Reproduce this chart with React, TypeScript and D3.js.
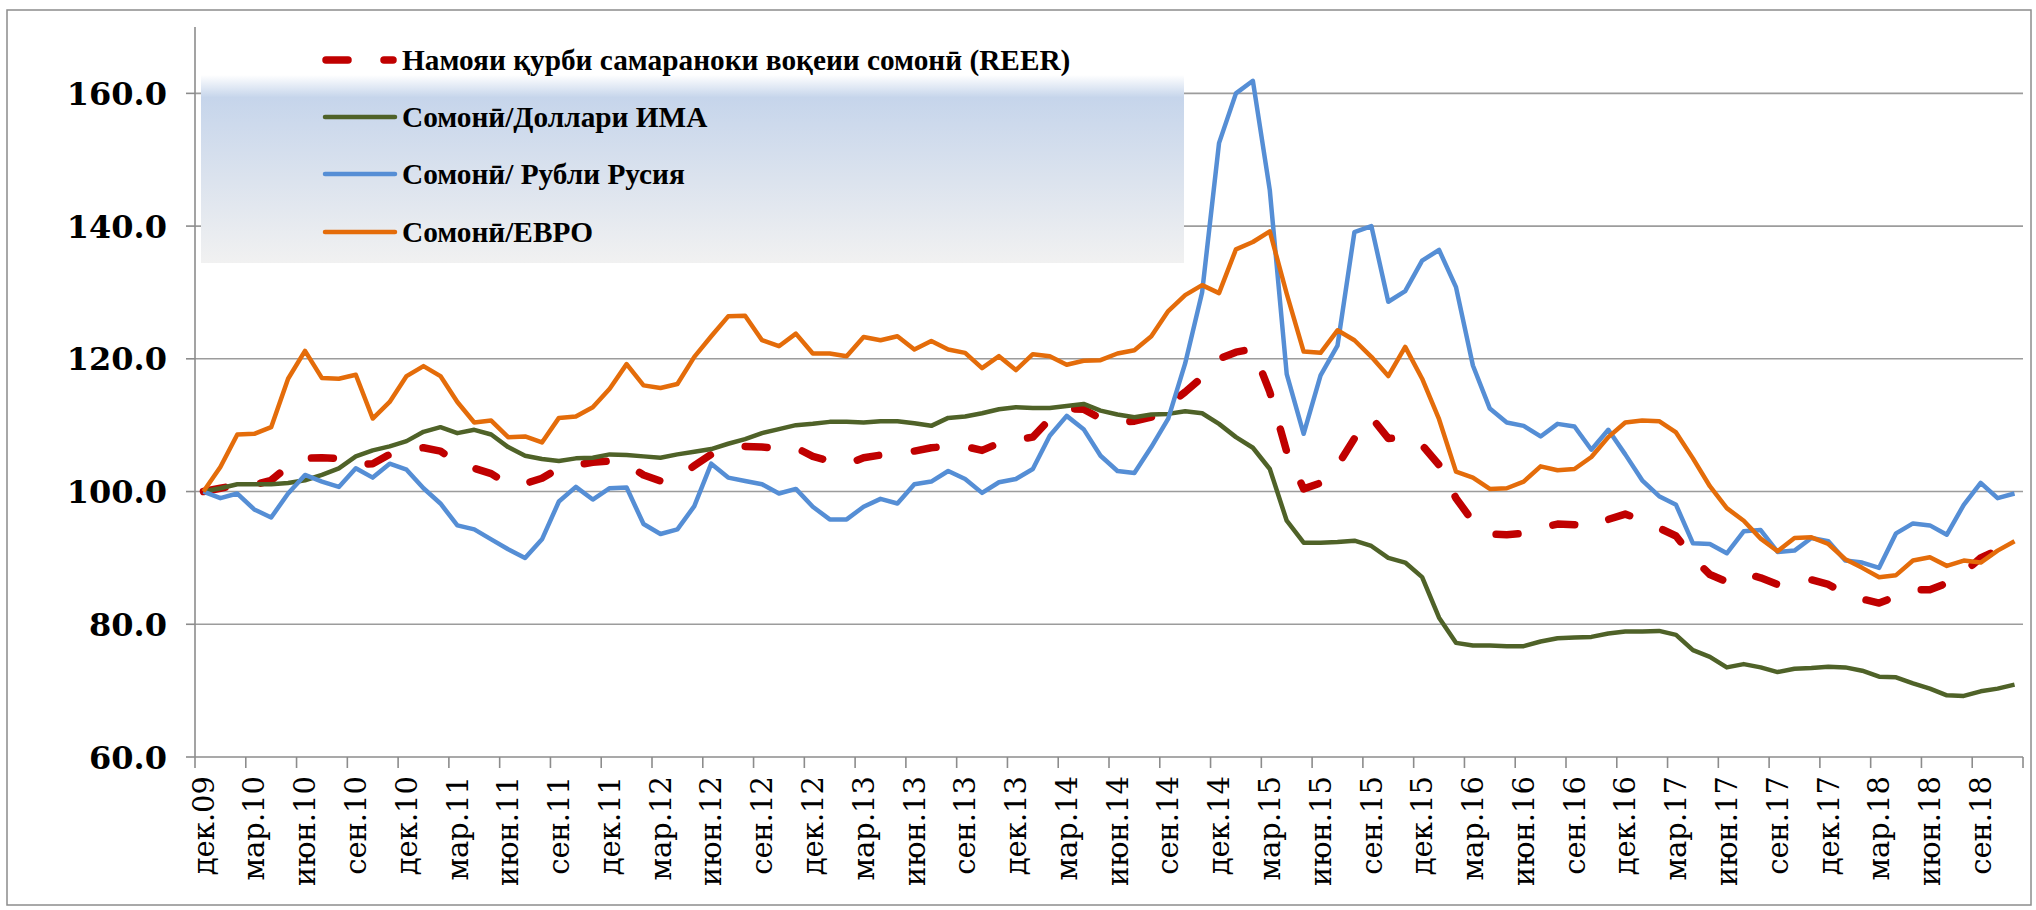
import React from 'react';
import * as d3 from 'd3';

// Somoni exchange-rate indices, monthly, Dec 2009 = 100
const reer = [
  100.0, 100.5, 101.0, 101.0, 101.7, 103.8, 105.0, 105.1, 105.0, 104.0, 104.2, 105.6,
  106.2, 106.6, 106.1, 104.3, 103.5, 102.7, 101.1, 101.2, 102.0, 103.5, 104.0, 104.4,
  104.6, 104.1, 102.5, 101.6, 102.1, 103.9, 105.6, 106.4, 106.8, 106.7, 106.5, 106.6,
  105.3, 104.6, 104.1, 105.1, 105.5, 105.8, 106.1, 106.6, 106.8, 106.8, 106.2, 107.3,
  107.8, 108.2, 110.9, 112.5, 112.4, 111.0, 110.4, 110.6, 111.2, 113.0, 115.0, 117.2,
  120.0, 121.0, 121.5, 115.0, 106.0, 100.4, 101.3, 103.9, 108.0, 111.2, 108.0, 108.2,
  107.0, 104.0, 99.0, 95.5, 93.6, 93.5, 93.7, 94.5, 95.1, 95.0, 94.6, 95.8,
  96.6, 95.7, 94.5, 93.3, 90.0, 87.5, 86.4, 87.7, 87.0, 86.0, 86.2, 86.7,
  86.0, 84.6, 83.8, 83.2, 84.2, 85.2, 85.2, 86.2, 87.8, 90.0, 91.2, 92.3,
];

const usd = [
  100.0, 100.5, 101.1, 101.1, 101.1, 101.3, 101.7, 102.5, 103.5, 105.3, 106.2, 106.8,
  107.6, 109.0, 109.7, 108.8, 109.3, 108.6, 106.7, 105.4, 104.9, 104.6, 105.0, 105.1,
  105.6, 105.5, 105.3, 105.1, 105.6, 106.0, 106.4, 107.2, 107.9, 108.8, 109.4, 110.0,
  110.2, 110.5, 110.5, 110.4, 110.6, 110.6, 110.3, 109.9, 111.1, 111.3, 111.8, 112.4,
  112.7, 112.6, 112.6, 112.9, 113.2, 112.2, 111.6, 111.2, 111.6, 111.7, 112.1, 111.8,
  110.2, 108.2, 106.6, 103.4, 95.6, 92.3, 92.3, 92.4, 92.6, 91.8, 90.0, 89.3,
  87.1, 81.0, 77.2, 76.8, 76.8, 76.7, 76.7, 77.4, 77.9, 78.0, 78.1, 78.6,
  78.9, 78.9, 79.0, 78.4, 76.1, 75.1, 73.5, 74.0, 73.5, 72.8, 73.3, 73.4,
  73.6, 73.5, 73.0, 72.1, 72.0, 71.1, 70.3, 69.3, 69.2, 69.9, 70.3, 70.9,
];

const rub = [
  100.0, 99.0, 99.7, 97.3, 96.1, 99.7, 102.5, 101.5, 100.7, 103.5, 102.1, 104.2,
  103.3, 100.5, 98.2, 94.9, 94.3, 92.8, 91.3, 90.0, 92.8, 98.5, 100.7, 98.8,
  100.5, 100.6, 95.1, 93.6, 94.3, 97.8, 104.2, 102.1, 101.6, 101.1, 99.7, 100.4,
  97.7, 95.8, 95.8, 97.7, 98.9, 98.2, 101.1, 101.5, 103.1, 101.9, 99.8, 101.4,
  101.9, 103.4, 108.4, 111.4, 109.4, 105.4, 103.1, 102.8, 106.7, 111.0, 119.3, 130.0,
  152.5, 160.0, 161.9, 145.4, 117.7, 108.7, 117.5, 122.0, 139.1, 140.0, 128.6, 130.2,
  134.8, 136.4, 130.8, 119.0, 112.5, 110.4, 109.9, 108.3, 110.2, 109.8, 106.3, 109.3,
  105.6, 101.7, 99.3, 98.0, 92.2, 92.1, 90.7, 94.0, 94.2, 90.9, 91.1, 93.0,
  92.5, 89.6, 89.3, 88.5, 93.7, 95.2, 94.9, 93.5, 98.0, 101.3, 99.0, 99.7,
];

const eur = [
  100.0, 103.7, 108.6, 108.7, 109.7, 117.0, 121.2, 117.1, 117.0, 117.6, 111.0, 113.5,
  117.4, 118.9, 117.4, 113.5, 110.4, 110.7, 108.2, 108.3, 107.4, 111.1, 111.3, 112.7,
  115.5, 119.2, 116.0, 115.6, 116.2, 120.3, 123.4, 126.4, 126.5, 122.8, 121.9, 123.8,
  120.8, 120.8, 120.4, 123.3, 122.8, 123.4, 121.4, 122.7, 121.4, 120.9, 118.6, 120.4,
  118.3, 120.7, 120.4, 119.1, 119.7, 119.8, 120.8, 121.3, 123.4, 127.2, 129.6, 131.1,
  129.9, 136.5, 137.6, 139.2, 129.8, 121.1, 120.9, 124.3, 122.8, 120.3, 117.4, 121.8,
  117.0, 110.9, 103.0, 102.1, 100.4, 100.5, 101.5, 103.8, 103.2, 103.4, 105.2, 108.2,
  110.4, 110.7, 110.6, 108.9, 105.0, 100.8, 97.5, 95.6, 92.9, 91.0, 93.0, 93.1,
  92.1, 89.8, 88.5, 87.1, 87.4, 89.6, 90.1, 88.8, 89.6, 89.3, 91.1, 92.5,
];

// every third month is labelled
const tickLabels = [
  'дек.09', 'мар.10', 'июн.10', 'сен.10', 'дек.10', 'мар.11', 'июн.11', 'сен.11', 'дек.11',
  'мар.12', 'июн.12', 'сен.12', 'дек.12', 'мар.13', 'июн.13', 'сен.13', 'дек.13', 'мар.14',
  'июн.14', 'сен.14', 'дек.14', 'мар.15', 'июн.15', 'сен.15', 'дек.15', 'мар.16', 'июн.16',
  'сен.16', 'дек.16', 'мар.17', 'июн.17', 'сен.17', 'дек.17', 'мар.18', 'июн.18', 'сен.18',
];

const yTicks = [60, 80, 100, 120, 140, 160];

const series = [
  { name: 'Намояи қурби самараноки воқеии сомонӣ (REER)', values: reer, color: '#c00000', width: 7.5, dash: '22 36' },
  { name: 'Сомонӣ/Доллари ИМА', values: usd, color: '#4f6228', width: 4.5, dash: null },
  { name: 'Сомонӣ/ Рубли Русия', values: rub, color: '#558ed5', width: 4.5, dash: null },
  { name: 'Сомонӣ/ЕВРО', values: eur, color: '#e46c0a', width: 4.5, dash: null },
];

const W = 2036;
const H = 910;
const plot = { left: 195, right: 2023, top: 27, bottom: 757 };

export default function App() {
  const months = d3.range(eur.length);
  const x = d3.scaleBand<number>().domain(months).range([plot.left, plot.right]).padding(0);
  const cx = (i: number) => (x(i) as number) + x.bandwidth() / 2;
  const y = d3.scaleLinear().domain([60, 170]).range([plot.bottom, plot.top]);

  const line = d3.line<number>()
    .x((_, i) => cx(i))
    .y(d => y(d));

  // tick marks sit on category boundaries, every 3 months, plus the axis end
  const tickPos = d3.range(0, months.length + 1, 3).map(i =>
    i < months.length ? (x(i) as number) : plot.right);

  const legendRows = [60, 117, 174, 232];

  return (
    <div style={{ position: 'fixed', left: 0, top: 0 }}>
      <svg width={W} height={H} style={{ display: 'block', background: '#fff' }}>
        <defs>
          <linearGradient id="legendBg" x1="0" y1="0" x2="0" y2="1">
            <stop offset="0%" stopColor="#ffffff" />
            <stop offset="12%" stopColor="#c6d5eb" />
            <stop offset="100%" stopColor="#f1f1f1" />
          </linearGradient>
        </defs>

        <rect x={7} y={10} width={2024} height={895} fill="#fff" stroke="#8c8c8c" strokeWidth={1.5} />

        {/* gridlines */}
        {yTicks.filter(t => t > 60).map(t => (
          <line key={t} x1={plot.left} x2={plot.right} y1={y(t)} y2={y(t)} stroke="#9c9c9c" strokeWidth={1.6} />
        ))}

        {/* legend background */}
        <rect x={201} y={75} width={983} height={188} fill="url(#legendBg)" />

        {/* y axis */}
        <line x1={plot.left} x2={plot.left} y1={plot.top} y2={plot.bottom} stroke="#8c8c8c" strokeWidth={1.6} />
        {yTicks.map(t => (
          <g key={t}>
            <line x1={plot.left - 9} x2={plot.left} y1={y(t)} y2={y(t)} stroke="#8c8c8c" strokeWidth={1.6} />
            <text x={167} y={y(t)} dy="0.36em" textAnchor="end"
              style={{ fontFamily: '"DejaVu Serif", serif', fontWeight: 700, fontSize: 32 }}>
              {t.toFixed(1)}
            </text>
          </g>
        ))}

        {/* x axis */}
        <line x1={plot.left} x2={plot.right} y1={plot.bottom} y2={plot.bottom} stroke="#8c8c8c" strokeWidth={1.6} />
        {tickPos.map((p, k) => (
          <line key={k} x1={p} x2={p} y1={plot.bottom} y2={plot.bottom + 11} stroke="#8c8c8c" strokeWidth={1.6} />
        ))}
        {tickLabels.map((lab, k) => (
          <text key={lab} transform={`translate(${cx(k * 3)},${plot.bottom + 19}) rotate(-90)`}
            dy="0.35em" textAnchor="end"
            style={{ fontFamily: '"DejaVu Serif", serif', fontSize: 29 }}>
            {lab}
          </text>
        ))}

        {/* series */}
        {series.map(s => (
          <path key={s.name} d={line(s.values) ?? ''} fill="none" stroke={s.color}
            strokeWidth={s.width} strokeLinejoin="round"
            strokeLinecap={s.dash ? 'round' : 'butt'}
            strokeDasharray={s.dash ?? undefined} />
        ))}

        {/* legend */}
        {series.map((s, k) => (
          <g key={s.name}>
            <line x1={s.dash ? 326 : 325} x2={s.dash ? 393 : 395} y1={legendRows[k]} y2={legendRows[k]}
              stroke={s.color} strokeWidth={s.width} strokeLinecap="round"
              strokeDasharray={s.dash ?? undefined} />
            <text x={402} y={legendRows[k]} dy="0.35em"
              style={{ fontFamily: '"Liberation Serif", serif', fontWeight: 700, fontSize: 29.3 }}>
              {s.name}
            </text>
          </g>
        ))}
      </svg>
    </div>
  );
}
